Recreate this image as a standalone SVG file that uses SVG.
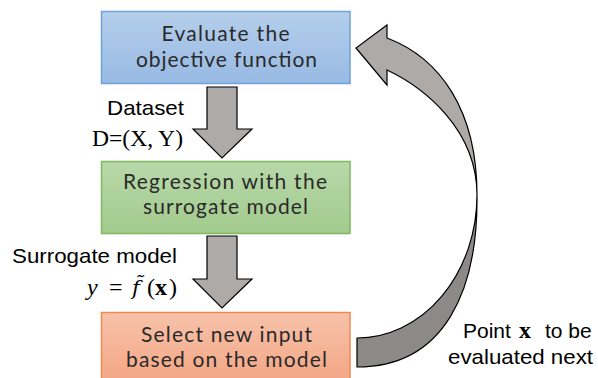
<svg xmlns="http://www.w3.org/2000/svg" width="598" height="378" viewBox="0 0 598 378">
  <defs>
    <linearGradient id="gBlue" x1="0" y1="0" x2="0" y2="1">
      <stop offset="0" stop-color="#b5cfeb"/>
      <stop offset="1" stop-color="#97b9e3"/>
    </linearGradient>
    <linearGradient id="gGreen" x1="0" y1="0" x2="0" y2="1">
      <stop offset="0" stop-color="#b8d8a9"/>
      <stop offset="1" stop-color="#a2ca8d"/>
    </linearGradient>
    <linearGradient id="gOrange" x1="0" y1="0" x2="0" y2="1">
      <stop offset="0" stop-color="#f7c2aa"/>
      <stop offset="1" stop-color="#f3a27f"/>
    </linearGradient>
  </defs>
  <style>
    .box text { font-family: Lato, "Noto Sans", sans-serif; font-size: 21px; fill: #2a2a2a; text-anchor: middle; }
    .lbl { font-family: "Liberation Sans", Arial, sans-serif; font-size: 21px; fill: #000; }
    .math { font-family: "Liberation Serif", "Times New Roman", serif; font-size: 24px; fill: #000; }
    .arrow { fill: #aeaaa8; stroke: #000; stroke-width: 1.2; stroke-linejoin: miter; }
    .arrow-dark { fill: #8c8988; stroke: #000; stroke-width: 1.2; }
  </style>

  <!-- process boxes -->
  <g id="evaluate" class="box">
    <rect x="101.5" y="11.5" width="248.5" height="72" fill="url(#gBlue)" stroke="#6fa2d8" stroke-width="1.5"/>
    <text x="225.5" y="41" textLength="128" lengthAdjust="spacing">Evaluate the</text>
    <text x="226.5" y="67" textLength="181" lengthAdjust="spacing">objective function</text>
  </g>

  <g id="regression" class="box">
    <rect x="101.5" y="161.5" width="248.5" height="72" fill="url(#gGreen)" stroke="#7fb85e" stroke-width="1.5"/>
    <text x="225" y="189" textLength="204" lengthAdjust="spacing">Regression with the</text>
    <text x="225.5" y="214" textLength="165" lengthAdjust="spacing">surrogate model</text>
  </g>

  <g id="select" class="box">
    <rect x="101.5" y="312.5" width="248.5" height="80" fill="url(#gOrange)" stroke="#ee8a52" stroke-width="1.5"/>
    <text x="226.5" y="342" textLength="171" lengthAdjust="spacing">Select new input</text>
    <text x="226.5" y="367" textLength="201" lengthAdjust="spacing">based on the model</text>
  </g>

  <!-- connectors -->
  <g id="connectors">
    <path class="arrow" d="M207,87 H237 V129 H252 L222,158 L193,129 H207 Z"/>
    <path class="arrow" d="M207,236 H237 V279 H252 L222,308 L193,279 H207 Z"/>
    <!-- curved feedback arrow: shaded lower sweep, then the lighter upper sweep with head -->
    <path class="arrow-dark" d="M357,338 A120,143 0 0 0 477,195 C478,290 445,367 357,367 Z"/>
    <path class="arrow" d="M387,38 C440,58 477,110 477,195 C477,130 425,88 387,70 L387,85 L356,48 L387,25 Z"/>
  </g>

  <!-- connector labels -->
  <g id="label-dataset">
    <text class="lbl" x="107" y="115" textLength="77" lengthAdjust="spacingAndGlyphs">Dataset</text>
    <text class="math" x="92" y="146" textLength="91" lengthAdjust="spacingAndGlyphs">D=(X, Y)</text>
  </g>
  <g id="label-surrogate">
    <text class="lbl" x="12" y="263" textLength="165" lengthAdjust="spacingAndGlyphs">Surrogate model</text>
    <text class="math" y="295"><tspan x="87" font-style="italic">y</tspan><tspan x="109">=</tspan><tspan x="132" font-family="DejaVu Serif" font-size="21" font-style="italic">f̃</tspan><tspan x="147">(</tspan><tspan x="155" font-weight="bold">x</tspan><tspan x="169">)</tspan></text>
  </g>
  <g id="label-point">
    <text class="lbl" y="338" font-size="22"><tspan x="463">Point</tspan><tspan x="519" class="math" font-weight="bold" font-size="22">x</tspan><tspan x="545">to be</tspan></text>
    <text class="lbl" x="448" y="364" font-size="22" textLength="145" lengthAdjust="spacingAndGlyphs">evaluated next</text>
  </g>
</svg>
